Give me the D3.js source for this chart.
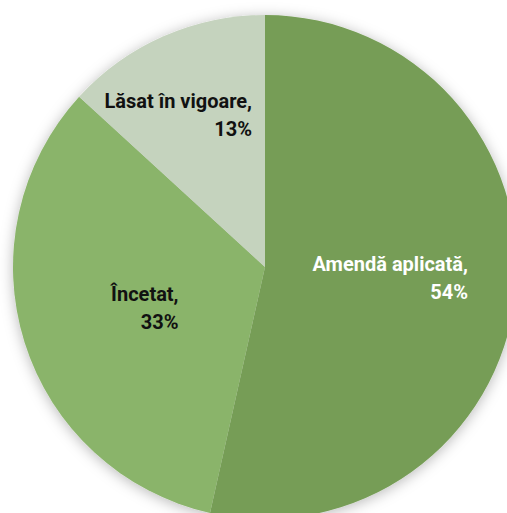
<!DOCTYPE html>
<html>
<head>
<meta charset="utf-8">
<script src="https://cdn.jsdelivr.net/npm/d3@7"></script>
<style>
html,body{margin:0;padding:0;background:#fff;overflow:hidden;}
svg{display:block;}
</style>
</head>
<body>
<svg id="chart" width="507" height="513"></svg>
<script>
// Data
const categories = ["Amendă aplicată", "Încetat", "Lăsat în vigoare"];
const values = [53.5, 33.3, 13.2];
const colors = ["#769D56", "#8AB46A", "#C5D3BE"];
const labelColors = ["#ffffff", "#111111", "#111111"];

const W = 507, H = 513;
const cx = 265, cy = 267, R = 252;
// layout-only label nudges (px) relative to arc centroid
const labelOffsets = [[0, -3], [0, 3], [-36, -37]];

const svg = d3.select("#chart");
const defs = svg.append("defs");
const f = defs.append("filter").attr("id", "shadow")
  .attr("x", "-20%").attr("y", "-20%").attr("width", "140%").attr("height", "140%");
f.append("feGaussianBlur").attr("in", "SourceAlpha").attr("stdDeviation", 7).attr("result", "b");
f.append("feOffset").attr("in", "b").attr("dx", 0).attr("dy", 2).attr("result", "o");
f.append("feFlood").attr("flood-color", "#000").attr("flood-opacity", 0.28).attr("result", "c");
f.append("feComposite").attr("in", "c").attr("in2", "o").attr("operator", "in").attr("result", "s");
const m = f.append("feMerge");
m.append("feMergeNode").attr("in", "s");
m.append("feMergeNode").attr("in", "SourceGraphic");

const data = categories.map((c, i) => ({ name: c, value: values[i], i }));
const pie = d3.pie().value(d => d.value).sort(null);
const arcs = pie(data);
const arc = d3.arc().innerRadius(0).outerRadius(R);
const color = d3.scaleOrdinal().domain(categories).range(colors);

const g = svg.append("g").attr("transform", `translate(${cx},${cy})`);
g.append("g").attr("filter", "url(#shadow)")
  .selectAll("path").data(arcs).join("path")
  .attr("d", arc)
  .attr("fill", d => color(d.data.name));

const total = d3.sum(values);
const lab = g.append("g")
  .attr("font-family", "Roboto, 'Noto Sans', sans-serif")
  .attr("font-weight", "bold")
  .attr("font-size", 20);

arcs.forEach((a, i) => {
  const [x0, y0] = arc.centroid(a);
  const x = x0 + labelOffsets[i][0], y = y0 + labelOffsets[i][1];
  const t = lab.append("text").attr("fill", labelColors[i]).attr("text-anchor", "end");
  const l1 = t.append("tspan").text(a.data.name + ",");
  const l2 = t.append("tspan").text(Math.round(a.data.value / total * 100) + "%");
  const w = Math.max(l1.node().getComputedTextLength(), l2.node().getComputedTextLength());
  const xr = x + w / 2;
  l1.attr("x", xr).attr("y", y - 7);
  l2.attr("x", xr).attr("y", y + 21);
});
</script>
</body>
</html>
